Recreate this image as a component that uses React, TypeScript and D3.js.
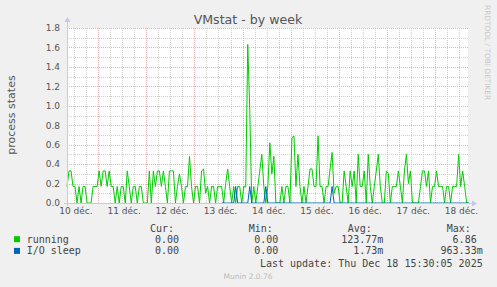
import React from "react";
import * as d3 from "d3";

// hourly samples starting at START
const START = Date.UTC(2025, 11, 10, 8, 34);
const END = Date.UTC(2025, 11, 18, 16, 14);

const running = [
  0.17, 0.33, 0.33, 0.17, 0.17, 0, 0.17, 0, 0.17, 0.17,
  0, 0, 0, 0.17, 0.17, 0.17, 0.33, 0.17, 0.33, 0.33,
  0.17, 0.33, 0.17, 0.17, 0, 0.17, 0, 0.17,
  0.17, 0, 0.33, 0.17, 0, 0.17, 0.17, 0, 0.17, 0.17,
  0, 0, 0, 0.33, 0, 0.33, 0.17, 0.33, 0.33, 0.17,
  0.33, 0.17, 0, 0.33, 0.33, 0.33, 0, 0.17, 0.3,
  0.17, 0, 0.17, 0.17, 0.48, 0.17, 0, 0.17, 0.17, 0,
  0.33, 0.35, 0.1, 0.17, 0, 0.17, 0.17, 0, 0.17, 0.17,
  0.17, 0, 0.2, 0.35, 0.17, 0, 0.17, 0, 0.17,
  0.17, 0, 0.17, 0.17, 1.63, 0.96, 0, 0.17, 0, 0.17,
  0.33, 0.5, 0.17, 0, 0.17, 0.62, 0.3, 0.48, 0, 0,
  0, 0.17, 0, 0.17, 0.17, 0, 0.67, 0.69,
  0.17, 0.5, 0.17, 0, 0.17, 0, 0.17, 0.35, 0.35, 0.17,
  0.17, 0.69, 0.17, 0.17, 0, 0.17, 0.17, 0.35, 0.52, 0.1,
  0.17, 0.17, 0, 0, 0.33, 0.17, 0, 0.33, 0.17,
  0.33, 0, 0.5, 0.17, 0.17, 0.33, 0, 0.5, 0.17, 0,
  0.17, 0.33, 0.5, 0.17, 0, 0, 0.33, 0.3, 0, 0.17,
  0.17, 0.17, 0.33, 0.17, 0, 0.33, 0.5, 0.2, 0.33,
  0, 0, 0, 0, 0.17, 0.33, 0.33, 0.17, 0.33, 0,
  0.17, 0.17, 0.33, 0.17, 0.17, 0.17, 0, 0.17, 0.17, 0,
  0.17, 0.17, 0.17, 0.5, 0.17, 0.33, 0.17, 0, 0,
];

const ioSleepOffset = 77;
const ioSleep = [
  0, 0, 0, 0, 0, 0, 0, 0.17, 0, 0,
  0, 0, 0, 0, 0.17, 0, 0, 0, 0, 0,
  0, 0, 0.17, 0, 0, 0, 0, 0, 0, 0,
  0, 0, 0, 0, 0, 0, 0, 0, 0, 0,
  0, 0, 0, 0, 0, 0, 0, 0, 0, 0,
  0, 0, 0, 0, 0, 0.17, 0, 0, 0, 0,
  0, 0, 0, 0, 0, 0, 0, 0, 0, 0,
  0, 0, 0, 0, 0, 0, 0, 0, 0, 0,
  0, 0, 0, 0, 0, 0, 0, 0, 0, 0,
  0, 0, 0, 0, 0, 0, 0, 0, 0, 0,
  0, 0, 0, 0, 0, 0, 0, 0, 0, 0,
  0, 0, 0, 0, 0, 0, 0, 0, 0, 0,
  0, 0, 0, 0,
];

const yTicks = [0, 0.2, 0.4, 0.6, 0.8, 1.0, 1.2, 1.4, 1.6, 1.8];
const yMinor = [0.1, 0.3, 0.5, 0.7, 0.9, 1.1, 1.3, 1.5, 1.7];
const dayLabels = ["10 déc.", "11 déc.", "12 déc.", "13 déc.", "14 déc.", "15 déc.", "16 déc.", "17 déc.", "18 déc."];

const seriesNames = ["running", "I/O sleep"];
const seriesColors = ["#00CC00", "#0066B3"];
const curVals = ["0.00", "0.00"];
const minVals = ["0.00", "0.00"];
const avgVals = ["123.77m", "1.73m"];
const maxVals = ["6.86", "963.33m"];

const W = 497;
const H = 287;
const PL = 67, PR = 468, PT = 28, PB = 203;

export default function App() {
  const x = d3.scaleUtc().domain([new Date(START), new Date(END)]).range([PL, PR]);
  const y = d3.scaleLinear().domain([0, 1.8]).range([PB, PT]);
  const HOUR = 3600e3;

  type P = { t: Date; v: number | null };
  const runPts: P[] = running.map((v, i) => ({ t: new Date(START + i * HOUR), v }));
  const ioPts: P[] = ioSleep.map((v, i) => ({ t: new Date(START + (i + ioSleepOffset) * HOUR), v }));

  const line = d3
    .line<P>()
    .defined((d) => d.v != null)
    .x((d) => x(d.t))
    .y((d) => y(d.v as number));

  const minorTimes = d3.utcHour.every(6)!.range(new Date(START), new Date(END));
  const dayTimes = d3.utcDay.range(new Date(START), new Date(END));
  const labelDays = dayLabels.map((_, i) => new Date(Date.UTC(2025, 11, 10 + i, 12)));

  const font = "'DejaVu Sans', sans-serif";
  const mono = "'DejaVu Sans Mono', monospace";
  const axisColor = "#c4c8ee";

  return (
    <svg width={W} height={H} style={{ position: "absolute", left: 0, top: 0, display: "block" }}>
      <rect x={0} y={0} width={W} height={H} fill="#F0F0F0" />
      <rect x={PL} y={PT} width={PR - PL} height={PB - PT} fill="#FFFFFF" />

      {/* minor vertical grid */}
      {minorTimes.map((t, i) => (
        <line key={"mv" + i} x1={Math.round(x(t)) + 0.5} x2={Math.round(x(t)) + 0.5} y1={PT} y2={PB}
          stroke="#d0d0d0" strokeDasharray="1,1" strokeWidth={1} />
      ))}
      {/* minor horizontal grid */}
      {yMinor.map((v, i) => (
        <line key={"mh" + i} x1={PL} x2={PR} y1={Math.round(y(v)) + 0.5} y2={Math.round(y(v)) + 0.5}
          stroke="#d0d0d0" strokeDasharray="1,1" strokeWidth={1} />
      ))}
      {/* major grid */}
      {dayTimes.map((t, i) => (
        <line key={"dv" + i} x1={Math.round(x(t)) + 0.5} x2={Math.round(x(t)) + 0.5} y1={PT} y2={PB}
          stroke="#e8b0b0" strokeDasharray="1,1" strokeWidth={1} />
      ))}
      {yTicks.map((v, i) => (
        <line key={"yh" + i} x1={PL} x2={PR} y1={Math.round(y(v)) + 0.5} y2={Math.round(y(v)) + 0.5}
          stroke="#e8b0b0" strokeDasharray="1,1" strokeWidth={1} />
      ))}

      {/* series */}
      <path d={line(runPts) || ""} fill="none" stroke={seriesColors[0]} strokeWidth={1} />
      <path d={line(ioPts) || ""} fill="none" stroke={seriesColors[1]} strokeWidth={1} />

      {/* axes */}
      <line x1={PL + 0.5} x2={PL + 0.5} y1={PB + 3} y2={PT - 6} stroke={axisColor} strokeWidth={1} />
      <path d={`M${PL - 2.5},${PT - 6} L${PL + 3.5},${PT - 6} L${PL + 0.5},${PT - 11} Z`} fill={axisColor} />
      <line x1={PL - 3} x2={PR + 4} y1={PB + 0.5} y2={PB + 0.5} stroke={axisColor} strokeWidth={1} />
      <path d={`M${PR + 4},${PB - 2.5} L${PR + 4},${PB + 3.5} L${PR + 9},${PB + 0.5} Z`} fill={axisColor} />

      {/* y tick labels */}
      {yTicks.map((v, i) => (
        <text key={"yl" + i} x={60} y={y(v) + 3.3} textAnchor="end" fontFamily={font} fontSize={9} fill="#555">
          {v.toFixed(1)}
        </text>
      ))}
      {/* x labels */}
      {labelDays.map((t, i) => (
        <text key={"xl" + i} x={x(t) + 2} y={214} textAnchor="middle" fontFamily={font} fontSize={9} fill="#555">
          {dayLabels[i]}
        </text>
      ))}

      {/* title */}
      <text x={248} y={24} textAnchor="middle" fontFamily={font} fontSize={12.6} fill="#555">
        VMstat - by week
      </text>
      <text transform="translate(14.5,115) rotate(-90)" textAnchor="middle" fontFamily={font} fontSize={11} fill="#555">
        process states
      </text>
      <text transform="translate(485,5) rotate(90)" fontFamily={font} fontSize={7.4} fill="#c8c8c8">
        RRDTOOL / TOBI OETIKER
      </text>

      {/* legend */}
      <text x={150} y={231.7} fontFamily={mono} fontSize={10} fill="#444">Cur:</text>
      <text x={248.7} y={231.7} fontFamily={mono} fontSize={10} fill="#444">Min:</text>
      <text x={347.7} y={231.7} fontFamily={mono} fontSize={10} fill="#444">Avg:</text>
      <text x={446.7} y={231.7} fontFamily={mono} fontSize={10} fill="#444">Max:</text>
      {seriesNames.map((name, i) => {
        const by = 242.7 + i * 11.7;
        return (
          <g key={"lg" + i}>
            <rect x={14} y={by - 6.5} width={6} height={6} fill={seriesColors[i]} />
            <text x={26.7} y={by} fontFamily={mono} fontSize={10} fill="#444">{name}</text>
            <text x={179} y={by} textAnchor="end" fontFamily={mono} fontSize={10} fill="#444">{curVals[i]}</text>
            <text x={278.3} y={by} textAnchor="end" fontFamily={mono} fontSize={10} fill="#444">{minVals[i]}</text>
            <text x={383.3} y={by} textAnchor="end" fontFamily={mono} fontSize={10} fill="#444">{avgVals[i]}</text>
            <text x={maxVals[i].endsWith("m") ? 482.7 : 476.7} y={by} textAnchor="end" fontFamily={mono} fontSize={10} fill="#444">{maxVals[i]}</text>
          </g>
        );
      })}
      <text x={482.7} y={267.3} textAnchor="end" fontFamily={mono} fontSize={10} fill="#444">
        Last update: Thu Dec 18 15:30:05 2025
      </text>
      <text x={248} y={278.5} textAnchor="middle" fontFamily={font} fontSize={7.5} fill="#bbbbbb">
        Munin 2.0.76
      </text>
    </svg>
  );
}
